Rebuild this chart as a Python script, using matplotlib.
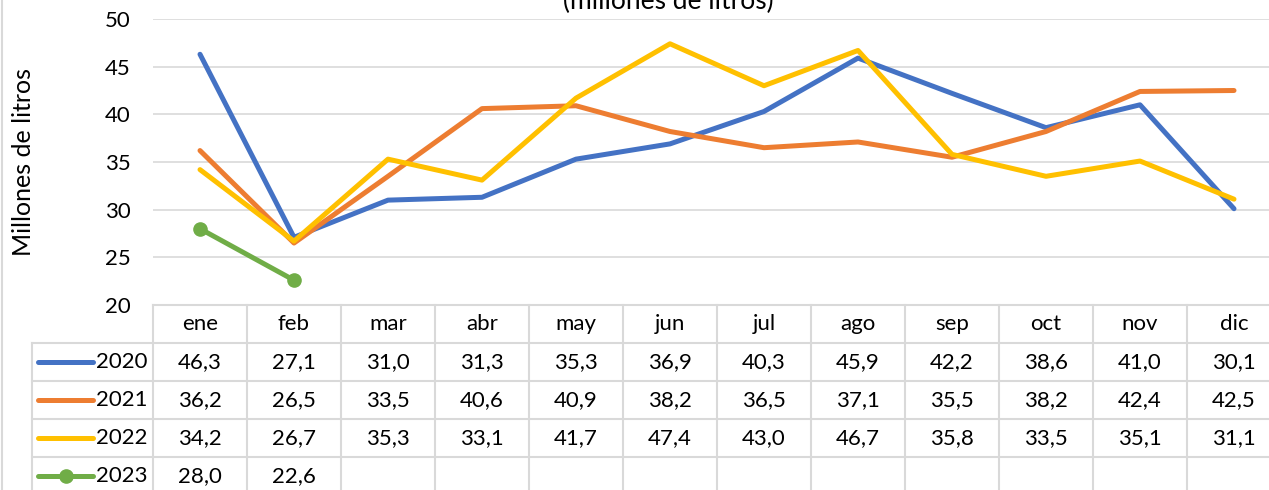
"""Consumo mensual por año, con tabla de datos al estilo Excel."""

import matplotlib
matplotlib.use("Agg")
import matplotlib.pyplot as plt
from matplotlib.lines import Line2D

plt.rcParams["font.family"] = ["Lato", "DejaVu Sans"]

months = ["ene", "feb", "mar", "abr", "may", "jun", "jul", "ago", "sep", "oct", "nov", "dic"]
years = ["2020", "2021", "2022", "2023"]
v2020 = [46.3, 27.1, 31.0, 31.3, 35.3, 36.9, 40.3, 45.9, 42.2, 38.6, 41.0, 30.1]
v2021 = [36.2, 26.5, 33.5, 40.6, 40.9, 38.2, 36.5, 37.1, 35.5, 38.2, 42.4, 42.5]
v2022 = [34.2, 26.7, 35.3, 33.1, 41.7, 47.4, 43.0, 46.7, 35.8, 33.5, 35.1, 31.1]
v2023 = [28.0, 22.6]
series = [v2020, v2021, v2022, v2023]
colors = ["#4472C4", "#ED7D31", "#FFC000", "#70AD47"]
yticks = [20, 25, 30, 35, 40, 45, 50]

W, H = 1269, 490
GRID = "#d9d9d9"
FS = 16

fig = plt.figure(figsize=(W / 100, H / 100), dpi=100)

# plot area: categories 94 px wide starting at x=153, y 50 at 19 px, 20 at 305 px
cat_w = 94
x0 = 153
ax = fig.add_axes([x0 / W, 1 - 305 / H, cat_w * 12 / W, (305 - 19) / H])
xs = list(range(len(months)))
for vals, c, yr in zip(series, colors, years):
    mk = "o" if yr == "2023" else None
    ax.plot(xs[:len(vals)], vals, color=c, linewidth=3.6, marker=mk, markersize=9.5,
            solid_capstyle="round", solid_joinstyle="round")
ax.set_xlim(-0.5, 11.5)
ax.set_ylim(20, 50)
ax.set_yticks(yticks)
ax.set_xticks([])
ax.tick_params(axis="y", length=0, pad=16, labelsize=FS)
ax.grid(axis="y", color=GRID, linewidth=1.2)
ax.set_axisbelow(True)
for s in ax.spines.values():
    s.set_visible(False)
ax.set_ylabel("Millones de litros", fontsize=18)
ax.yaxis.set_label_coords(-(x0 - 35) / (cat_w * 12), 0.5)

# data table
leg_w = (x0 - 32) / cat_w
tab = fig.add_axes([32 / W, 1 - 495 / H, (cat_w * 12 + x0 - 32) / W, (495 - 305) / H])
tab.set_xlim(-0.5 - leg_w, 11.5)
tab.set_ylim(5, 0)
tab.axis("off")
lw = 1.5
tab.plot([-0.5, 11.5], [0, 0], color=GRID, lw=lw, clip_on=False)
for r in range(1, 5):
    tab.plot([-0.5 - leg_w, 11.5], [r, r], color=GRID, lw=lw, clip_on=False)
tab.plot([-0.5 - leg_w] * 2, [1, 5], color=GRID, lw=lw, clip_on=False)
for k in range(13):
    tab.plot([k - 0.5] * 2, [0, 5], color=GRID, lw=lw, clip_on=False)
for i, m in enumerate(months):
    tab.text(i, 0.5, m, ha="center", va="center", fontsize=FS)
for r, (vals, c, yr) in enumerate(zip(series, colors, years), start=1):
    lx0 = -0.5 - leg_w + 6 / cat_w
    lx1 = lx0 + 55 / cat_w
    tab.plot([lx0, lx1], [r + 0.5, r + 0.5], color=c, lw=3.6, solid_capstyle="round")
    if yr == "2023":
        tab.plot([(lx0 + lx1) / 2], [r + 0.5], "o", color=c, markersize=9.5)
    tab.text(lx1 + 3 / cat_w, r + 0.5, yr, ha="left", va="center", fontsize=FS)
    for i, v in enumerate(vals):
        tab.text(i, r + 0.5, f"{v:.1f}".replace(".", ","), ha="center", va="center", fontsize=FS)

# cut-off title and chart border
fig.text(668 / W, 1 - 9 / H, "(millones de litros)", ha="center", va="baseline", fontsize=19)
fig.add_artist(Line2D([1.5 / W, 1.5 / W], [0, 1], color=GRID, lw=1.5))

fig.savefig("out.png", dpi=100)
